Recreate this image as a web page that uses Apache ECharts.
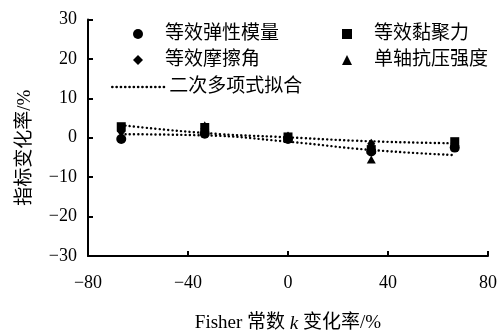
<!DOCTYPE html>
<html>
<head>
<meta charset="utf-8">
<script src="https://cdn.jsdelivr.net/npm/echarts@6/dist/echarts.min.js"></script>
<style>html,body{margin:0;padding:0;background:#fff}#c{width:498px;height:331px}</style>
</head>
<body>
<div id="c"></div>
<script>
// Fisher constant k change (%)
const xValues = [-66.7, -33.3, 0, 33.3, 66.7];
const modulus  = [-0.3, 1.0, -0.3, -3.5, -2.5];   // 等效弹性模量
const cohesion = [2.8, 2.6, 0.2, -3.0, -1.0];     // 等效黏聚力
const friction = [1.5, 1.5, 0.3, -1.5, -1.8];     // 等效摩擦角
const ucs      = [2.5, 3.2, -0.3, -5.5, -2.2];    // 单轴抗压强度
const fitA = [3.2, 1.2, 0.1, -0.9, -1.4];
const fitB = [0.9, 0.6, -1.0, -3.1, -4.4];
const xTicks = [-80, -40, 0, 40, 80];
const yTicks = [-30, -20, -10, 0, 10, 20, 30];
const names = ['等效弹性模量', '等效黏聚力', '等效摩擦角', '单轴抗压强度', '二次多项式拟合'];

const FONT = "'Liberation Serif','Noto Sans CJK SC',serif";
const pair = arr => xValues.map((x, i) => [x, arr[i]]);
const minus = v => String(v).replace('-', '\u2212');

const chart = echarts.init(document.getElementById('c'), null, {renderer: 'canvas'});
const legText = {fontFamily: FONT, fontSize: 19, color: '#000', lineHeight: 20};
const symLegend = (name, icon, left, top) => ({
  data: [{name: name, icon: icon}], left: left, top: top, padding: 0,
  itemWidth: 10, itemHeight: 10, itemGap: 0, selectedMode: false,
  itemStyle: {color: '#000', opacity: 1},
  textStyle: Object.assign({}, legText, {padding: [0, 0, 0, 17]})
});
chart.setOption({
  animation: false,
  textStyle: {fontFamily: FONT, color: '#000'},
  grid: {left: 88, right: 10, top: 19.5, bottom: 75, containLabel: false, outerBoundsMode: 'none'},
  legend: [
    symLegend(names[0], 'circle', 133, 24),
    symLegend(names[1], 'rect', 342, 24),
    symLegend(names[2], 'diamond', 133, 50),
    symLegend(names[3], 'triangle', 342, 50),
    {data: [names[4]], left: 111, top: 77, padding: 0, itemWidth: 52, itemHeight: 10, itemGap: 0,
     selectedMode: false, itemStyle: {opacity: 0},
     lineStyle: {color: '#000', width: 2.6, type: [0.1, 4.2], cap: 'round'},
     textStyle: Object.assign({}, legText, {padding: [0, 0, 0, 0]})}
  ],
  xAxis: {
    type: 'value', min: -80, max: 80, interval: 40,
    name: 'Fisher 常数 {i|k} 变化率/%', nameLocation: 'middle', nameGap: 58,
    nameTextStyle: {fontFamily: FONT, fontSize: 19, color: '#000',
      rich: {i: {fontStyle: 'italic', fontFamily: FONT, fontSize: 19, color: '#000'}}},
    axisLine: {onZero: false, lineStyle: {color: '#000', width: 2}},
    axisTick: {inside: true, length: 5, lineStyle: {color: '#000', width: 2}},
    axisLabel: {fontFamily: FONT, fontSize: 18, color: '#000', margin: 18,
      formatter: v => xTicks.includes(v) ? minus(v) : ''},
    splitLine: {show: false}
  },
  yAxis: {
    type: 'value', min: -30, max: 30, interval: 10,
    name: '指标变化率/%', nameLocation: 'middle', nameGap: 53, nameRotate: 90,
    nameTextStyle: {fontFamily: FONT, fontSize: 19, color: '#000', padding: [0, 20, 0, 0]},
    axisLine: {onZero: false, lineStyle: {color: '#000', width: 2}},
    axisTick: {inside: true, length: 5, lineStyle: {color: '#000', width: 2}},
    axisLabel: {fontFamily: FONT, fontSize: 18, color: '#000', margin: 11,
      formatter: v => yTicks.includes(v) ? minus(v) : ''},
    splitLine: {show: false}
  },
  series: [
    {name: names[4], type: 'line', data: pair(fitA), smooth: true, symbol: 'none', z: 1,
     itemStyle: {color: '#000'},
     lineStyle: {color: '#000', width: 2.4, type: [0.1, 4.2], cap: 'round'}},
    {name: names[4], type: 'line', data: pair(fitB), smooth: true, symbol: 'none', z: 1,
     itemStyle: {color: '#000'},
     lineStyle: {color: '#000', width: 2.4, type: [0.1, 4.2], cap: 'round'}},
    {name: names[0], type: 'scatter', data: pair(modulus), symbol: 'circle', symbolSize: 10, itemStyle: {color: '#000', opacity: 1}},
    {name: names[1], type: 'scatter', data: pair(cohesion), symbol: 'rect', symbolSize: 9, itemStyle: {color: '#000', opacity: 1}},
    {name: names[2], type: 'scatter', data: pair(friction), symbol: 'diamond', symbolSize: [8, 10], itemStyle: {color: '#000', opacity: 1}},
    {name: names[3], type: 'scatter', data: pair(ucs), symbol: 'triangle', symbolSize: [9, 8], itemStyle: {color: '#000', opacity: 1}}
  ]
});
</script>
</body>
</html>
